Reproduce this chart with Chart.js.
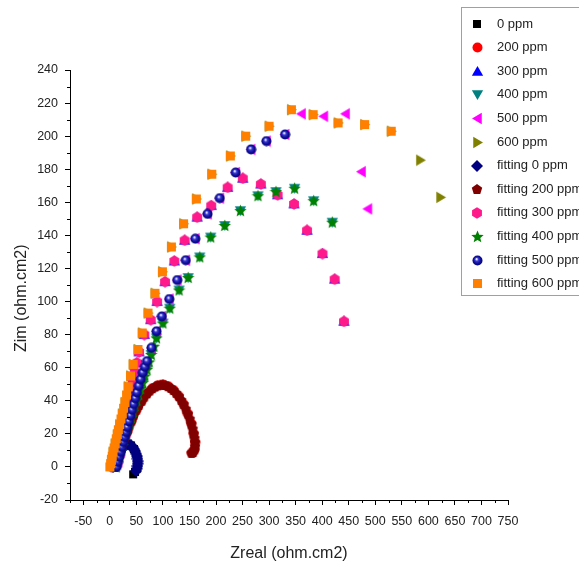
<!DOCTYPE html>
<html lang="en">
<head>
    <meta charset="UTF-8">
    <title>Zim vs Zreal</title>
    <script src="https://cdn.jsdelivr.net/npm/chart.js@4.4.1/dist/chart.umd.min.js"></script>
    <style>
        html, body { margin: 0; padding: 0; background: #fff; }
        #nyquist { display: block; }
    </style>
</head>
<body>

<canvas id="nyquist" width="579" height="570"></canvas>

<script>
    // axis ticks
    const xTickValues = [-50, 0, 50, 100, 150, 200, 250, 300, 350, 400, 450, 500, 550, 600, 650, 700, 750]
    const yTickValues = [-20, 0, 20, 40, 60, 80, 100, 120, 140, 160, 180, 200, 220, 240]
    const xMinorTicks = [-75, -25, 25, 75, 125, 175, 225, 275, 325, 375, 425, 475, 525, 575, 625, 675, 725]
    const yMinorTicks = [-10, 10, 30, 50, 70, 90, 110, 130, 150, 170, 190, 210, 230]
    const yTitle = 'Zim (ohm.cm2)'
    const xTitle = 'Zreal (ohm.cm2)'

    const seriesNames = ['0 ppm', '200 ppm', '300 ppm', '400 ppm', '500 ppm', '600 ppm',
        'fitting 0 ppm', 'fitting 200 ppm', 'fitting 300 ppm', 'fitting 400 ppm', 'fitting 500 ppm', 'fitting 600 ppm']

    // measured points (mostly hidden under the fits)
    const exp0X = [8, 12, 17, 22, 28, 34, 40, 45.5, 49.5, 52, 52.5, 51, 47.5, 44]
    const exp0Y = [1.5, 4.5, 8, 11, 13, 13.7, 13, 10.8, 8, 5, 2, -1, -3, -4.5]

    const exp200X = [13, 19, 25.5, 33, 41, 50, 60, 70, 80, 90, 100, 110, 120, 130, 139, 147, 153.5, 158, 160.5, 159.5, 154]
    const exp200Y = [3, 9, 15, 21.5, 28, 34.5, 40, 44.5, 47.6, 49.3, 49.8, 48.8, 46.5, 42.8, 38, 32.2, 26.2, 20.2, 15, 10.5, 8.5]

    const exp300X = [5.5, 10.5, 15.5, 20.5, 25.5, 30.5, 36, 43, 51, 55, 65, 77, 89, 104, 121.5, 141, 164.5, 191, 222, 250.5, 284.5, 316, 347, 371.5, 400.5, 423.5, 441]
    const exp300Y = [3, 9.5, 16, 23, 29.5, 36, 43.5, 52.5, 63, 69.5, 80, 89, 100, 112, 124.5, 137, 151, 158, 169, 174.5, 171, 164.5, 159, 143, 129, 113.5, 88]

    const exp400X = [15, 21, 27, 33, 40, 47, 54, 62, 70, 78, 88, 100, 113, 130.5, 147.5, 169.5, 190, 216.5, 246, 279, 313, 348, 384, 419]
    const exp400Y = [3, 10, 16.5, 23, 30, 37, 44, 51, 59, 68, 78, 87, 96, 107, 114.5, 127, 139, 146, 155, 164, 166.5, 168.5, 161, 148]

    const exp500X = [15.5, 20.5, 25.5, 30.5, 36, 42, 48, 54.5, 62, 70, 78.5, 88, 98, 112, 127, 143, 161, 184, 207, 237, 266, 295, 330, 361, 403, 444, 474, 486]
    const exp500Y = [3, 9, 15, 21, 27.5, 34.5, 41.5, 49, 57, 64, 72, 82, 91, 101.5, 113, 125, 138, 153, 162.5, 178, 192, 197, 201, 213.5, 212, 213.5, 178.5, 156]

    const exp600X = [3, 6, 10, 14, 18.5, 23.5, 28.5, 34.5, 39, 44, 53, 61, 72, 85, 99, 116, 139, 163, 192, 227, 256, 300, 342, 383, 430, 480, 530, 585, 623]
    const exp600Y = [4, 9, 14, 19.5, 25.5, 32, 39, 48.5, 55, 62, 71, 81, 93, 105, 118, 133, 147, 162, 177, 188, 200, 206, 216, 213, 208, 207, 203, 185.5, 163]

    // fitted curves
    const fit0X = [6, 8, 10, 12, 14.5, 17, 19.5, 22, 25, 28, 31, 34, 37, 40, 43, 45.5, 47.5, 49.5, 51, 52, 52.5, 52.5, 52, 51, 49.5]
    const fit0Y = [0, 1.5, 3, 4.5, 6, 8, 9.5, 11, 12.2, 13, 13.5, 13.7, 13.5, 13, 12, 10.8, 9.5, 8, 6.5, 5, 3.5, 2, 0.5, -1, -2.5]

    const fit200X = [10, 13, 16, 19, 22, 25.5, 29, 33, 37, 41, 45.5, 50, 55, 60, 65, 70, 75, 80, 85, 90, 95, 100, 105, 110, 115, 120, 125, 130, 134.5, 139, 143, 147, 150.5, 153.5, 156, 158, 159.5, 160.5, 160.5, 159.5, 157, 154]
    const fit200Y = [0, 3, 6, 9, 12, 15, 18, 21.5, 25, 28, 31.5, 34.5, 37.5, 40, 42.5, 44.5, 46.2, 47.6, 48.6, 49.3, 49.7, 49.8, 49.5, 48.8, 47.8, 46.5, 44.8, 42.8, 40.5, 38, 35.2, 32.2, 29.2, 26.2, 23.2, 20.2, 17.5, 15, 12.5, 10.5, 9, 8.5]

    const fit300X = [3, 5.5, 8, 10.5, 13, 15.5, 18, 20.5, 23, 25.5, 28, 30.5, 33, 36, 39.5, 43, 47, 51, 55, 65, 77, 89, 104, 121.5, 141, 164.5, 191, 222, 250.5, 284.5, 316, 347, 371.5, 400.5, 423.5, 441]
    const fit300Y = [0, 3, 6, 9.5, 13, 16, 19.5, 23, 26, 29.5, 33, 36, 39.5, 43.5, 48, 52.5, 57.5, 63, 69.5, 80, 89, 100, 112, 124.5, 137, 151, 158, 169, 174.5, 171, 164.5, 159, 143, 129, 113.5, 88]

    const fit400X = [12, 15, 18, 21, 24, 27, 30, 33, 36.5, 40, 43.5, 47, 50.5, 54, 58, 62, 66, 70, 74, 78, 83, 88, 100, 113, 130.5, 147.5, 169.5, 190, 216.5, 246, 279, 313, 348, 384, 419]
    const fit400Y = [0, 3, 6.5, 10, 13, 16.5, 20, 23, 26.5, 30, 33.5, 37, 40.5, 44, 47.5, 51, 55, 59, 63.5, 68, 73, 78, 87, 96, 107, 114.5, 127, 139, 146, 155, 164, 166.5, 168.5, 161, 148]

    const fit500X = [13, 15.5, 18, 20.5, 23, 25.5, 28, 30.5, 33, 36, 39, 42, 45, 48, 51, 54.5, 58, 62, 66, 70, 78.5, 88, 98, 112, 127, 143, 161, 184, 207, 237, 266, 295, 330]
    const fit500Y = [0, 3, 6, 9, 12, 15, 18, 21, 24, 27.5, 31, 34.5, 38, 41.5, 45, 49, 53, 57, 60.5, 64, 72, 82, 91, 101.5, 113, 125, 138, 153, 162.5, 178, 192, 197, 201]

    const fit600X = [0, 1.5, 3, 4.5, 6, 8, 10, 12, 14, 16, 18.5, 21, 23.5, 26, 28.5, 31.5, 34.5, 39, 44, 53, 61, 72, 85, 99, 116, 139, 163, 192, 227, 256, 300, 342, 383, 430, 480, 530]
    const fit600Y = [0, 2, 4, 6.5, 9, 11.5, 14, 17, 19.5, 22.5, 25.5, 29, 32, 35.5, 39, 43.5, 48.5, 55, 62, 71, 81, 93, 105, 118, 133, 147, 162, 177, 188, 200, 206, 216, 213, 208, 207, 203]

    // little canvases used as point styles (Origin-like symbols)
    function polygon(g, cx, cy, r, n, start) {
        g.beginPath()
        for (let i = 0; i < n; i++) {
            const a = start + i * 2 * Math.PI / n
            const px = cx + r * Math.cos(a), py = cy + r * Math.sin(a)
            if (i) g.lineTo(px, py)
            else g.moveTo(px, py)
        }
        g.closePath()
    }

    function makeMarker(shape, color, size) {
        const c = document.createElement('canvas')
        c.width = size
        c.height = size
        const g = c.getContext('2d')
        const m = size / 2
        g.fillStyle = color
        if (shape === 'square') {
            g.fillRect(1, 1, size - 2, size - 2)
            return c
        }
        if (shape === 'circle') {
            g.beginPath()
            g.arc(m, m, m - 0.5, 0, Math.PI * 2)
        } else if (shape === 'sphere') {
            const grad = g.createRadialGradient(m - 1, m - 1.5, 0.3, m, m, m)
            grad.addColorStop(0, '#ffffff')
            grad.addColorStop(0.28, '#3a3ad8')
            grad.addColorStop(0.6, '#10109a')
            grad.addColorStop(1, '#00006e')
            g.fillStyle = grad
            g.beginPath()
            g.arc(m, m, m - 0.5, 0, Math.PI * 2)
        } else if (shape === 'up') {
            polygon(g, m, m + 1, m, 3, -Math.PI / 2)
        } else if (shape === 'down') {
            polygon(g, m, m - 1, m, 3, Math.PI / 2)
        } else if (shape === 'left') {
            polygon(g, m + 1, m, m, 3, Math.PI)
        } else if (shape === 'right') {
            polygon(g, m - 1, m, m, 3, 0)
        } else if (shape === 'diamond') {
            polygon(g, m, m, m, 4, -Math.PI / 2)
        } else if (shape === 'pentagon') {
            polygon(g, m, m + 0.5, m - 0.5, 5, -Math.PI / 2)
        } else if (shape === 'hexagon') {
            polygon(g, m, m, m - 0.3, 6, -Math.PI / 2)
        } else if (shape === 'star') {
            g.beginPath()
            for (let i = 0; i < 10; i++) {
                const r = i % 2 ? m * 0.45 : m
                const a = -Math.PI / 2 + i * Math.PI / 5
                const px = m + r * Math.cos(a), py = m + 0.5 + r * Math.sin(a)
                if (i) g.lineTo(px, py)
                else g.moveTo(px, py)
            }
            g.closePath()
        }
        g.fill()
        return c
    }

    const markers = [
        makeMarker('square', '#000000', 10),
        makeMarker('circle', '#ff0000', 11),
        makeMarker('up', '#0000ff', 13),
        makeMarker('down', '#008080', 13),
        makeMarker('left', '#ff00ff', 13),
        makeMarker('right', '#808000', 13),
        makeMarker('diamond', '#000080', 12),
        makeMarker('pentagon', '#800000', 12),
        makeMarker('hexagon', '#ff1a8c', 12),
        makeMarker('star', '#008000', 13),
        makeMarker('sphere', '#000080', 11),
        makeMarker('square', '#ff8000', 11),
    ]

    const seriesX = [exp0X, exp200X, exp300X, exp400X, exp500X, exp600X, fit0X, fit200X, fit300X, fit400X, fit500X, fit600X]
    const seriesY = [exp0Y, exp200Y, exp300Y, exp400Y, exp500Y, exp600Y, fit0Y, fit200Y, fit300Y, fit400Y, fit500Y, fit600Y]

    const datasets = seriesNames.map((name, i) => ({
        label: name,
        data: seriesX[i].map((x, j) => ({x: x, y: seriesY[i][j]})),
        pointStyle: markers[i],
        pointRadius: 5,
        showLine: false,
        // later series sit on top, as in the original plot
        order: seriesNames.length - i,
    }))

    const fontFamily = '"Liberation Sans", Arial, sans-serif'
    const tickFont = {family: fontFamily, size: 12.5}
    const titleFont = {family: fontFamily, size: 16}

    // minor ticks + the y title (placed a little below the axis middle, as in the original)
    const axisExtras = {
        id: 'axisExtras',
        afterDraw(chart) {
            const ctx = chart.ctx
            const xs = chart.scales.x, ys = chart.scales.y
            const area = chart.chartArea
            ctx.save()
            ctx.strokeStyle = '#000'
            ctx.lineWidth = 1
            ctx.beginPath()
            xMinorTicks.forEach(v => {
                const px = Math.round(xs.getPixelForValue(v)) + 0.5
                ctx.moveTo(px, area.bottom)
                ctx.lineTo(px, area.bottom + 3)
            })
            yMinorTicks.forEach(v => {
                const py = Math.round(ys.getPixelForValue(v)) + 0.5
                ctx.moveTo(area.left, py)
                ctx.lineTo(area.left - 3, py)
            })
            ctx.stroke()

            ctx.translate(22, ys.getPixelForValue(102))
            ctx.rotate(-Math.PI / 2)
            ctx.font = '16px ' + fontFamily
            ctx.fillStyle = '#222'
            ctx.textAlign = 'center'
            ctx.textBaseline = 'middle'
            ctx.fillText(yTitle, 0, 0)
            ctx.restore()
        }
    }

    const boxLegend = {
        id: 'boxLegend',
        afterDraw(chart) {
            const ctx = chart.ctx
            ctx.save()
            ctx.strokeStyle = '#a0a0a0'
            ctx.lineWidth = 1
            ctx.strokeRect(461.5, 7.5, 200, 288)
            ctx.font = '13px ' + fontFamily
            ctx.fillStyle = '#222'
            ctx.textBaseline = 'middle'
            seriesNames.forEach((name, i) => {
                const y = 24 + i * 23.6
                const mk = markers[i]
                ctx.drawImage(mk, Math.round(477 - mk.width / 2), Math.round(y - mk.height / 2))
                ctx.fillText(name, 497, y)
            })
            ctx.restore()
        }
    }

    new Chart(document.getElementById('nyquist'), {
        type: 'scatter',
        data: {datasets: datasets},
        plugins: [axisExtras, boxLegend],
        options: {
            responsive: false,
            animation: false,
            devicePixelRatio: 1,
            layout: {padding: {top: 70, right: 71, bottom: 0, left: 0}},
            plugins: {
                legend: {display: false},
                tooltip: {enabled: false},
            },
            scales: {
                x: {
                    type: 'linear',
                    min: -75,
                    max: 750,
                    afterBuildTicks: (scale) => {
                        scale.ticks = xTickValues.map(v => ({value: v}))
                    },
                    afterFit: (scale) => {
                        scale.height = 70
                    },
                    grid: {drawOnChartArea: false, drawTicks: true, tickLength: 5, tickColor: '#000'},
                    border: {color: '#000', width: 1},
                    ticks: {color: '#222', font: tickFont, padding: 9, maxRotation: 0, autoSkip: false},
                    title: {display: true, text: xTitle, color: '#222', font: titleFont, padding: {top: 0, bottom: 7}},
                },
                y: {
                    type: 'linear',
                    min: -20,
                    max: 240,
                    afterBuildTicks: (scale) => {
                        scale.ticks = yTickValues.map(v => ({value: v}))
                    },
                    afterFit: (scale) => {
                        scale.width = 70
                    },
                    grid: {drawOnChartArea: false, drawTicks: true, tickLength: 5, tickColor: '#000'},
                    border: {color: '#000', width: 1},
                    ticks: {color: '#222', font: tickFont, padding: 7, autoSkip: false},
                    title: {display: false},
                },
            },
        },
    })
</script>

</body>
</html>
